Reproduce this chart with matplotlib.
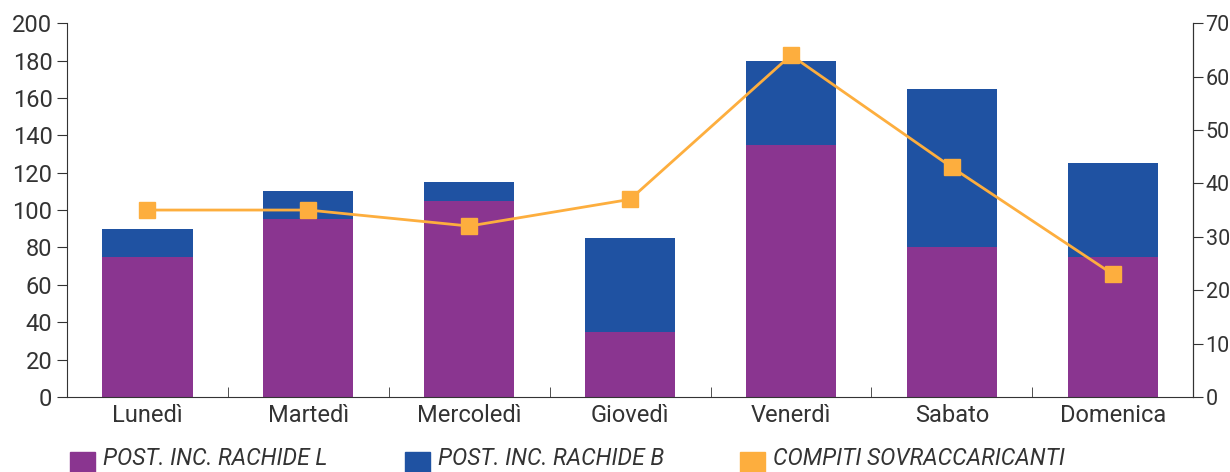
import matplotlib.pyplot as plt
import matplotlib.patches as mpatches
import numpy as np

# Data
days = ["Lunedì", "Martedì", "Mercoledì", "Giovedì", "Venerdì", "Sabato", "Domenica"]
rachide_l = [75, 95, 105, 35, 135, 80, 75]
rachide_b = [15, 15, 10, 50, 45, 85, 50]
compiti = [35, 35, 32, 37, 64, 43, 23]
series_labels = ["POST. INC. RACHIDE L", "POST. INC. RACHIDE B", "COMPITI SOVRACCARICANTI"]

PURPLE = "#8A3590"
BLUE = "#1F52A2"
ORANGE = "#FDAE3E"
TEXT = "#333333"

plt.rcParams['font.family'] = ['Roboto', 'DejaVu Sans']

fig = plt.figure(figsize=(12.3, 4.72), dpi=100)
ax = fig.add_axes([0.0545, 0.159, 0.9155, 0.792])

x = np.arange(len(days))
ax.bar(x, rachide_l, width=0.56, color=PURPLE, zorder=2)
ax.bar(x, rachide_b, width=0.56, bottom=rachide_l, color=BLUE, zorder=2)

ax.set_xlim(-0.5, len(days) - 0.5)
ax.set_ylim(0, 200)
ax.set_yticks(range(0, 201, 20))

# x ticks at category boundaries, labels centred
ax.set_xticks(x)
ax.set_xticklabels(days)
ax.tick_params(axis='x', which='major', length=0, pad=5, labelsize=17, labelcolor=TEXT)
ax.set_xticks(np.arange(0.5, len(days) - 0.5, 1), minor=True)
ax.tick_params(axis='x', which='minor', direction='in', length=7, color=TEXT)
ax.tick_params(axis='y', direction='out', length=7, labelsize=17, labelcolor=TEXT, color=TEXT)

ax.spines['top'].set_visible(False)
for s in ['left', 'bottom', 'right']:
    ax.spines[s].set_color(TEXT)

ax2 = ax.twinx()
ax2.plot(x, compiti, color=ORANGE, linewidth=2, marker='s', markersize=11, zorder=3)
ax2.set_ylim(0, 70)
ax2.set_yticks(range(0, 71, 10))
ax2.tick_params(axis='y', direction='out', length=7, pad=2, labelsize=15.5,
                labelcolor=TEXT, color=TEXT)
for s in ['top', 'left', 'bottom']:
    ax2.spines[s].set_visible(False)
ax2.spines['right'].set_color(TEXT)

# legend drawn along the bottom
colors = [PURPLE, BLUE, ORANGE]
x0 = 70
for i, (lab, c) in enumerate(zip(series_labels, colors)):
    lx = (x0 + i * 335) / 1230
    fig.add_artist(mpatches.Rectangle((lx, -0.01), 25 / 1230, 0.053,
                                      transform=fig.transFigure, color=c, clip_on=False))
    fig.text(lx + 33 / 1230, 0.014, lab, fontsize=16.5, style='italic', color=TEXT,
             ha='left', va='baseline')

fig.savefig("out.png", dpi=100)
